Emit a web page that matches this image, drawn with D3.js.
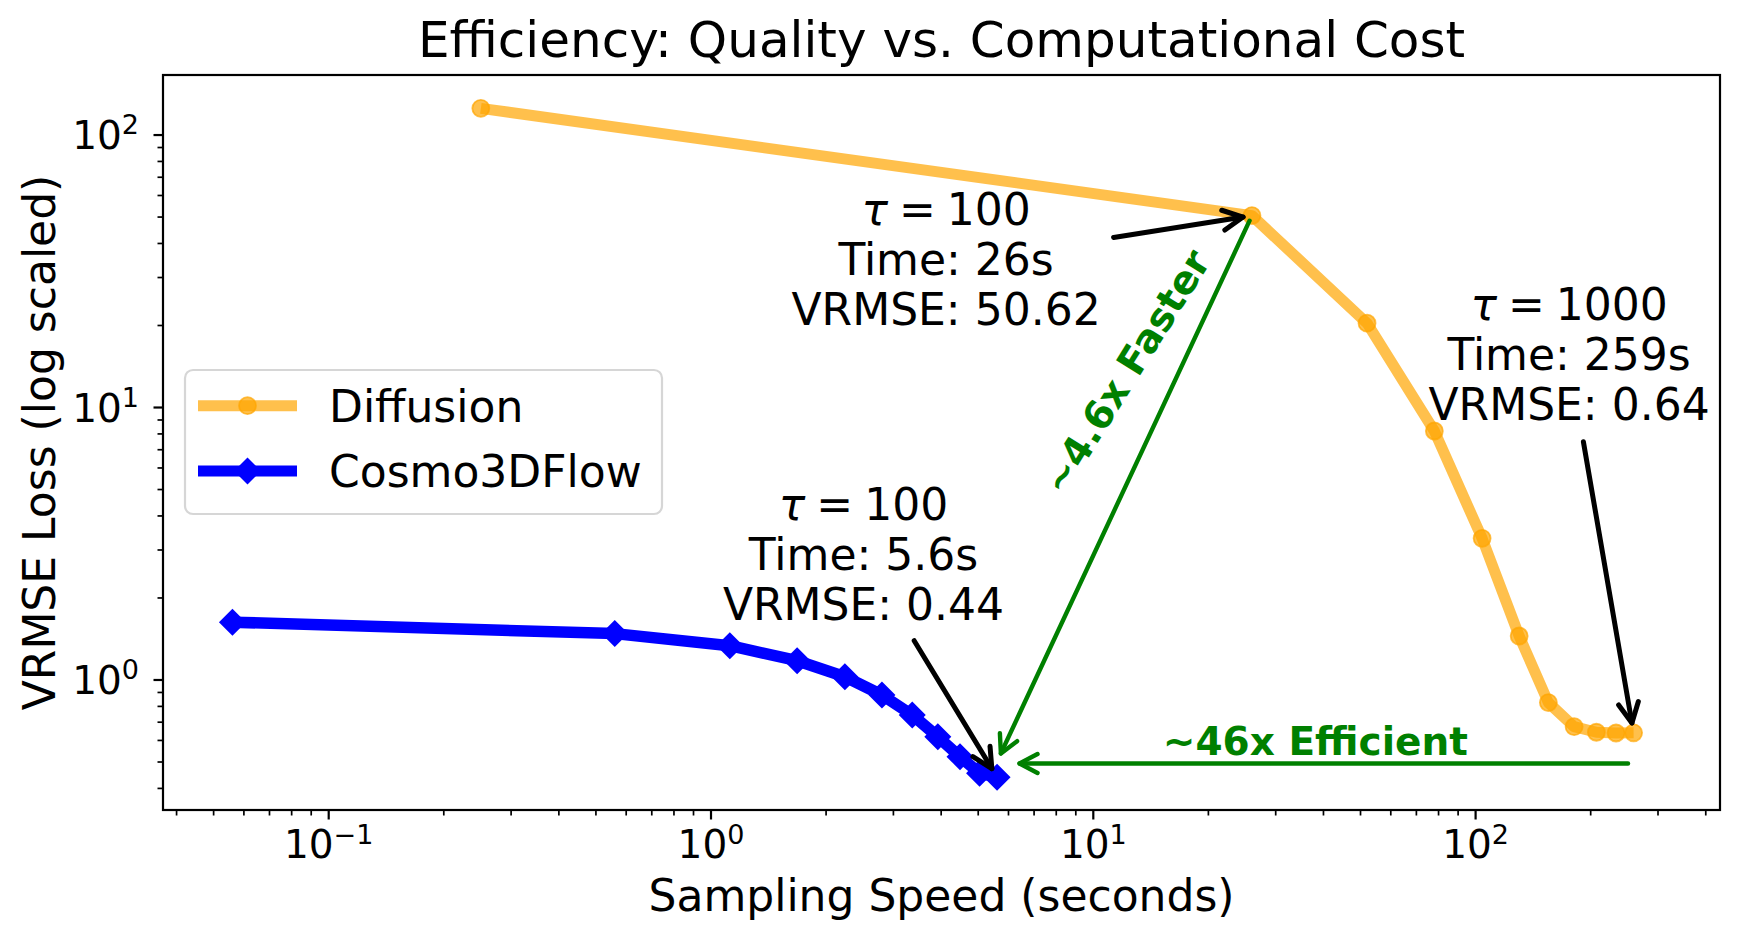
<!DOCTYPE html>
<html>
<head>
<meta charset="utf-8">
<script src="https://cdn.jsdelivr.net/npm/d3@7"></script>
<style>
  body { margin: 0; background: #fff; }
  text { font-family: 'DejaVu Sans', sans-serif; fill: #000; }
</style>
</head>
<body>
<svg id="chart" width="1740" height="943"></svg>
<script>
// Data
const diff_time = [0.25, 26, 52, 78, 104, 130, 155, 181, 207, 233, 259];
const diff_loss = [125.3, 50.62, 20.4, 8.2, 3.31, 1.45, 0.826, 0.674, 0.643, 0.639, 0.64];
const cosmo_time = [0.056, 0.56, 1.12, 1.68, 2.24, 2.8, 3.36, 3.92, 4.48, 5.04, 5.6];
const cosmo_loss = [1.63, 1.48, 1.336, 1.177, 1.028, 0.881, 0.744, 0.619, 0.523, 0.455, 0.44];

const x_tick_vals = [0.1, 1, 10, 100];
const x_tick_exp = ['\u22121', '0', '1', '2'];
const y_tick_vals = [1, 10, 100];
const y_tick_exp = ['0', '1', '2'];

const series_names = ['Diffusion', 'Cosmo3DFlow'];

// Annotation boxes: middle line centre in data units
const notes = [
  { lines: ['100', 'Time: 26s', 'VRMSE: 50.62'], at: [4.12, 35.1], tail: [11.3, 42.1], target: [26, 50.62], shrink: 9 },
  { lines: ['1000', 'Time: 259s', 'VRMSE: 0.64'], at: [175.6, 15.7], tail: [191.4, 7.49], target: [259, 0.64], shrink: 10 },
  { lines: ['100', 'Time: 5.6s', 'VRMSE: 0.44'], at: [2.505, 2.9], tail: [3.4, 1.394], target: [5.6, 0.44], shrink: 10 },
];

const faster = { label: '~4.6x Faster', from: [26, 50.62], to: [5.65, 0.515], at: [12.2, 13.5] };
const efficient = { label: '~46x Efficient', from: [259, 0.494], to: [6.2, 0.494], at: [38.1, 0.5305] };

const ORANGE = '#ffa500';
const BLUE = '#0000ff';
const GREEN = '#008000';

const svg = d3.select('#chart');
const m_left = 163, m_right = 1720, m_top = 75, m_bottom = 810;

const x = d3.scaleLog().domain([0.03686, 435.8]).range([m_left, m_right]);
const y = d3.scaleLog().domain([0.3333, 166.1]).range([m_bottom, m_top]);

svg.append('rect')
  .attr('x', 0).attr('y', 0).attr('width', 1740).attr('height', 943)
  .attr('fill', '#fff');

// Title
svg.append('text')
  .attr('x', (m_left + m_right) / 2).attr('y', 57)
  .attr('text-anchor', 'middle')
  .style('font-size', '50px')
  .text('Efficiency: Quality vs. Computational Cost');

// Ticks (minor from the log scale, major = powers of ten)
const isMajor = v => Math.abs(Math.log10(v) - Math.round(Math.log10(v))) < 1e-9;
const axis_g = svg.append('g');

x.ticks().forEach((v) => {
  const major = isMajor(v);
  axis_g.append('line')
    .attr('x1', x(v)).attr('x2', x(v))
    .attr('y1', m_bottom).attr('y2', m_bottom + (major ? 9.5 : 5.5))
    .attr('stroke', '#000').attr('stroke-width', major ? 2.2 : 1.7);
});
y.ticks().forEach((v) => {
  const major = isMajor(v);
  axis_g.append('line')
    .attr('y1', y(v)).attr('y2', y(v))
    .attr('x1', m_left).attr('x2', m_left - (major ? 9.5 : 5.5))
    .attr('stroke', '#000').attr('stroke-width', major ? 2.2 : 1.7);
});

x_tick_vals.forEach((v, i) => {
  const t = axis_g.append('text')
    .attr('x', x(v)).attr('y', 858)
    .attr('text-anchor', 'middle')
    .style('font-size', '39px');
  t.append('tspan').text('10');
  t.append('tspan').attr('dy', -14).style('font-size', '27px').text(x_tick_exp[i]);
});
y_tick_vals.forEach((v, i) => {
  const t = axis_g.append('text')
    .attr('x', 139).attr('y', y(v) + 14)
    .attr('text-anchor', 'end')
    .style('font-size', '39px');
  t.append('tspan').text('10');
  t.append('tspan').attr('dy', -15).style('font-size', '27px').text(y_tick_exp[i]);
});

// Axis labels
svg.append('text')
  .attr('x', (m_left + m_right) / 2).attr('y', 911)
  .attr('text-anchor', 'middle')
  .style('font-size', '44px')
  .text('Sampling Speed (seconds)');
svg.append('text')
  .attr('transform', `translate(55,${(m_top + m_bottom) / 2}) rotate(-90)`)
  .attr('text-anchor', 'middle')
  .style('font-size', '44px')
  .text('VRMSE Loss (log scaled)');

// Series
const plot = svg.append('g');
const diff_pts = diff_time.map((t, i) => [x(t), y(diff_loss[i])]);
const cosmo_pts = cosmo_time.map((t, i) => [x(t), y(cosmo_loss[i])]);
const line = d3.line();

plot.append('path')
  .attr('d', line(diff_pts))
  .attr('fill', 'none')
  .attr('stroke', ORANGE).attr('stroke-opacity', 0.7)
  .attr('stroke-width', 11).attr('stroke-linejoin', 'round');
plot.selectAll('circle.diff').data(diff_pts).enter().append('circle')
  .attr('class', 'diff')
  .attr('cx', d => d[0]).attr('cy', d => d[1]).attr('r', 8.5)
  .attr('fill', ORANGE).attr('fill-opacity', 0.7)
  .attr('stroke', ORANGE).attr('stroke-opacity', 0.7).attr('stroke-width', 1.8);

const diamond = (cx, cy, r) => `M${cx},${cy - r}L${cx + r},${cy}L${cx},${cy + r}L${cx - r},${cy}Z`;

plot.append('path')
  .attr('d', line(cosmo_pts))
  .attr('fill', 'none')
  .attr('stroke', BLUE)
  .attr('stroke-width', 11.5).attr('stroke-linejoin', 'round');
plot.selectAll('path.cosmo').data(cosmo_pts).enter().append('path')
  .attr('class', 'cosmo')
  .attr('d', d => diamond(d[0], d[1], 13.5))
  .attr('fill', BLUE);

// Arrow helper, "->" style like matplotlib
function drawArrow(g, p0, p1, o) {
  const dx = p1[0] - p0[0];
  const dy = p1[1] - p0[1];
  const len = Math.hypot(dx, dy);
  const ux = dx / len, uy = dy / len;
  const a = [p0[0] + ux * o.shrinkA, p0[1] + uy * o.shrinkA];
  const b = [p1[0] - ux * o.shrinkB, p1[1] - uy * o.shrinkB];
  const px = -uy, py = ux;
  g.append('path')
    .attr('d', `M${a[0]},${a[1]}L${b[0]},${b[1]}`)
    .attr('stroke', o.color).attr('stroke-width', o.width)
    .attr('stroke-linecap', 'round').attr('fill', 'none');
  const h1 = [b[0] - ux * o.head + px * o.half, b[1] - uy * o.head + py * o.half];
  const h2 = [b[0] - ux * o.head - px * o.half, b[1] - uy * o.head - py * o.half];
  g.append('path')
    .attr('d', `M${h1[0]},${h1[1]}L${b[0]},${b[1]}L${h2[0]},${h2[1]}`)
    .attr('stroke', o.color).attr('stroke-width', o.width)
    .attr('stroke-linecap', 'round').attr('stroke-linejoin', 'round')
    .attr('fill', 'none');
}

const anno = svg.append('g');
const toPx = d => [x(d[0]), y(d[1])];

// Green comparison arrows
drawArrow(anno, toPx(faster.from), toPx(faster.to),
  { shrinkA: 5.6, shrinkB: 5.6, color: GREEN, width: 4.4, head: 18, half: 9.5 });
drawArrow(anno, toPx(efficient.from), toPx(efficient.to),
  { shrinkA: 5.6, shrinkB: 5.6, color: GREEN, width: 4.4, head: 18, half: 9.5 });

anno.append('text')
  .attr('transform', `translate(${x(faster.at[0])},${y(faster.at[1])}) rotate(-58)`)
  .attr('text-anchor', 'middle').attr('dominant-baseline', 'central')
  .style('font-size', '39px').style('font-weight', 'bold').style('fill', GREEN)
  .text(faster.label);
anno.append('text')
  .attr('x', x(efficient.at[0])).attr('y', y(efficient.at[1]))
  .attr('text-anchor', 'middle')
  .style('font-size', '39px').style('font-weight', 'bold').style('fill', GREEN)
  .text(efficient.label);

// Black callouts
notes.forEach((n) => {
  const cx = x(n.at[0]);
  const cy = y(n.at[1]);
  n.lines.forEach((ln, i) => {
    const t = anno.append('text')
      .attr('x', cx).attr('y', cy + 16 + (i - 1) * 50)
      .attr('text-anchor', 'middle')
      .style('font-size', '44px');
    if (i === 0) {
      t.style('word-spacing', '-3px');
      t.append('tspan').style('font-style', 'italic').text('\u03c4');
      t.append('tspan').text(' = ' + ln);
    } else {
      t.text(ln);
    }
  });
  drawArrow(anno, toPx(n.tail), toPx(n.target),
    { shrinkA: 0, shrinkB: n.shrink, color: '#000', width: 5, head: 20, half: 10 });
});

// Frame
svg.append('rect')
  .attr('x', m_left).attr('y', m_top)
  .attr('width', m_right - m_left).attr('height', m_bottom - m_top)
  .attr('fill', 'none').attr('stroke', '#000').attr('stroke-width', 2.2);

// Legend
const leg = svg.append('g');
leg.append('rect')
  .attr('x', 185).attr('y', 370).attr('width', 477).attr('height', 144)
  .attr('rx', 8).attr('ry', 8)
  .attr('fill', '#fff').attr('fill-opacity', 0.8)
  .attr('stroke', '#cccccc').attr('stroke-opacity', 0.8).attr('stroke-width', 2.2);

series_names.forEach((name, i) => {
  const ly = 405.7 + i * 65.3;
  leg.append('line')
    .attr('x1', 198).attr('x2', 297).attr('y1', ly).attr('y2', ly)
    .attr('stroke', i === 0 ? ORANGE : BLUE)
    .attr('stroke-opacity', i === 0 ? 0.7 : 1)
    .attr('stroke-width', 11);
  if (i === 0) {
    leg.append('circle')
      .attr('cx', 247.5).attr('cy', ly).attr('r', 8.5)
      .attr('fill', ORANGE).attr('fill-opacity', 0.7)
      .attr('stroke', ORANGE).attr('stroke-opacity', 0.7).attr('stroke-width', 1.8);
  } else {
    leg.append('path').attr('d', diamond(247.5, ly, 13.5)).attr('fill', BLUE);
  }
  leg.append('text')
    .attr('x', 329).attr('y', ly + 16)
    .style('font-size', '44px')
    .text(name);
});
</script>
</body>
</html>
